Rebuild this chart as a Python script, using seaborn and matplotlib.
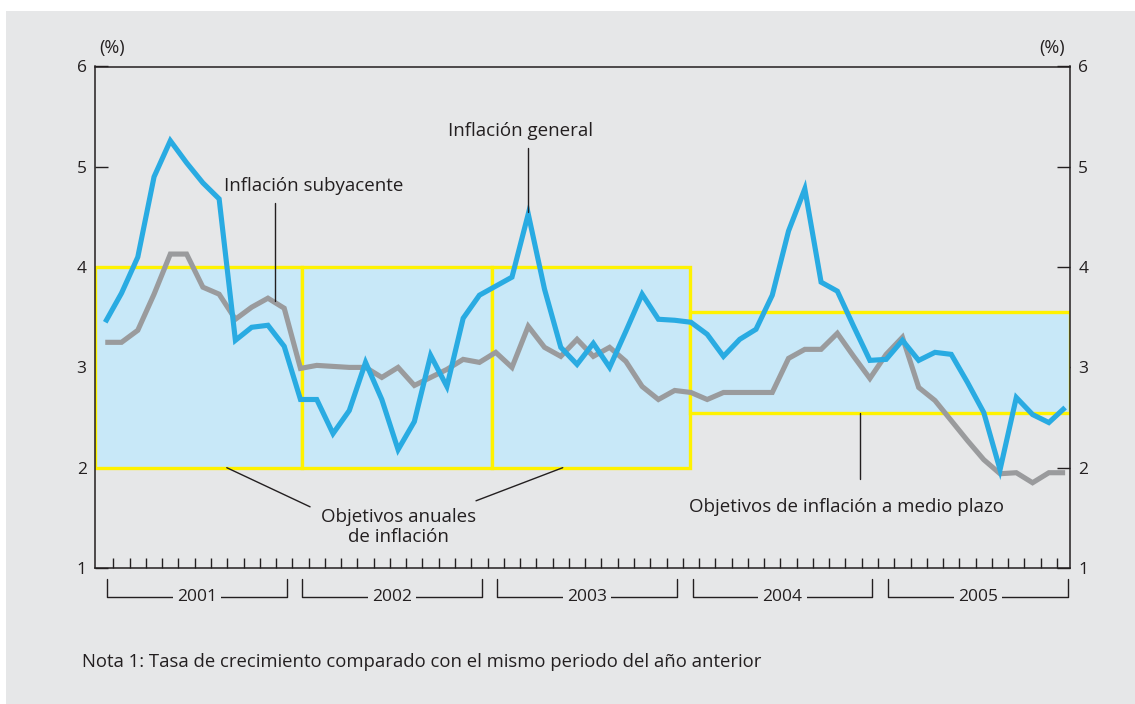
import numpy as np
import pandas as pd
import matplotlib
matplotlib.use('Agg')
import matplotlib.pyplot as plt
import matplotlib.transforms as mtransforms
from matplotlib.patches import Rectangle
import seaborn as sns

# Monthly data Jan 2001 - Dec 2005
anios = ['2001', '2002', '2003', '2004', '2005']
general = [3.45, 3.74, 4.10, 4.90, 5.26, 5.04, 4.84, 4.68, 3.27, 3.40, 3.42, 3.21,
           2.68, 2.68, 2.34, 2.57, 3.05, 2.68, 2.18, 2.46, 3.12, 2.81, 3.49, 3.72,
           3.81, 3.90, 4.53, 3.78, 3.20, 3.03, 3.24, 3.00, 3.36, 3.73, 3.48, 3.47,
           3.45, 3.33, 3.11, 3.28, 3.38, 3.72, 4.36, 4.78, 3.85, 3.76, 3.41, 3.07,
           3.08, 3.27, 3.07, 3.15, 3.13, 2.85, 2.55, 1.98, 2.70, 2.53, 2.45, 2.60]
subyacente = [3.25, 3.25, 3.37, 3.73, 4.13, 4.13, 3.80, 3.73, 3.48, 3.60, 3.69, 3.59,
              2.99, 3.02, 3.01, 3.00, 3.00, 2.90, 3.00, 2.82, 2.90, 2.98, 3.08, 3.05,
              3.15, 3.00, 3.41, 3.20, 3.11, 3.28, 3.11, 3.20, 3.06, 2.81, 2.68, 2.77,
              2.75, 2.68, 2.75, 2.75, 2.75, 2.75, 3.09, 3.18, 3.18, 3.34, 3.11, 2.89,
              3.13, 3.30, 2.80, 2.67, 2.47, 2.27, 2.08, 1.94, 1.95, 1.85, 1.95, 1.95]

# inflation targets (start/end in months from Jan 2001)
obj_inicio = [-0.63, 12.07, 23.75, 35.94]
obj_fin = [12.07, 23.75, 35.94, 59.3]
obj_min = [2.0, 2.0, 2.0, 2.55]
obj_max = [4.0, 4.0, 4.0, 3.55]

fondo = '#e6e7e8'
texto = '#231f20'
azul = '#29abe2'
gris = '#9a9b9d'

sns.set_theme(style='white')
plt.rcParams['font.family'] = ['Open Sans', 'DejaVu Sans']
plt.rcParams['text.color'] = texto

df = pd.DataFrame({
    'mes': list(range(60)) * 2,
    'valor': subyacente + general,
    'serie': ['subyacente'] * 60 + ['general'] * 60,
})

fig = plt.figure(figsize=(11.35, 7.04), dpi=100, facecolor='white')
fig.add_artist(Rectangle((6 / 1135, 0), 1, (704 - 11) / 704, transform=fig.transFigure,
                         fc=fondo, ec='none', zorder=-10))
ax = fig.add_axes([95 / 1135, 136 / 704, 975 / 1135, 501.5 / 704])
ax.set_facecolor(fondo)

# target bands
for x0, x1, lo, hi in zip(obj_inicio, obj_fin, obj_min, obj_max):
    ax.add_patch(Rectangle((x0, lo), x1 - x0, hi - lo, fc='#c8e8f8', ec='#fff200',
                           lw=2.4, zorder=1))

sns.lineplot(data=df, x='mes', y='valor', hue='serie', hue_order=['subyacente', 'general'],
             palette={'subyacente': gris, 'general': azul}, linewidth=3.7,
             legend=False, ax=ax, zorder=3, solid_joinstyle='miter', solid_capstyle='butt')

ax.set_xlim(-0.63, 59.3)
ax.set_ylim(1, 6)
ax.set_xlabel('')
ax.set_ylabel('')
ax.set_xticks(np.arange(59) + 0.5)
ax.set_yticks([1, 2, 3, 4, 5, 6])
ax.tick_params(axis='x', direction='in', length=7, width=1, color=texto,
               labelbottom=False, bottom=True)
ax.tick_params(axis='y', direction='in', length=9.5, width=1, color=texto,
               left=True, right=True, labelleft=True, labelright=True,
               labelsize=12.5, labelcolor=texto, pad=6)
for s in ax.spines.values():
    s.set_visible(True)
    s.set_color(texto)
    s.set_linewidth(1.1)

# year brackets
trans = mtransforms.blended_transform_factory(ax.transData, ax.transAxes)
for k, anio in enumerate(anios):
    x0, x1 = 12 * k + 0.1, 12 * k + 11.15
    ax.plot([x0, x0, x1, x1], [-0.022, -0.058, -0.058, -0.022], color=texto, lw=1,
            transform=trans, clip_on=False)
    ax.text((x0 + x1) / 2, -0.058, anio, transform=trans, ha='center', va='center',
            fontsize=12.5, color=texto,
            bbox=dict(fc=fondo, ec='none', pad=3))

# annotations
ax.text(0.4, 6.18, '(%)', ha='center', va='center', fontsize=13)
ax.text(58.2, 6.18, '(%)', ha='center', va='center', fontsize=13)

ax.text(25.55, 5.36, 'Inflación general', ha='center', va='center', fontsize=13.5)
ax.plot([26, 26], [5.19, 4.55], color=texto, lw=1, zorder=4)

ax.text(12.84, 4.81, 'Inflación subyacente', ha='center', va='center', fontsize=13.5)
ax.plot([10.44, 10.44], [4.64, 3.66], color=texto, lw=1, zorder=4)

ax.text(18.0, 1.41, 'Objetivos anuales\nde inflación', ha='center', va='center',
        fontsize=13.5, linespacing=1.15)
ax.plot([7.47, 12.59], [2.0, 1.61], color=texto, lw=1, zorder=4, clip_on=False)
ax.plot([28.12, 22.79], [2.0, 1.67], color=texto, lw=1, zorder=4, clip_on=False)

ax.text(45.56, 1.61, 'Objetivos de inflación a medio plazo', ha='center', va='center',
        fontsize=13.5)
ax.plot([46.39, 46.39], [2.545, 1.89], color=texto, lw=1, zorder=4)

fig.text(82 / 1135, 1 - 662 / 704,
         'Nota 1: Tasa de crecimiento comparado con el mismo periodo del año anterior',
         ha='left', va='center', fontsize=13.3, color=texto)

fig.savefig('out.png', dpi=100, facecolor='white')
